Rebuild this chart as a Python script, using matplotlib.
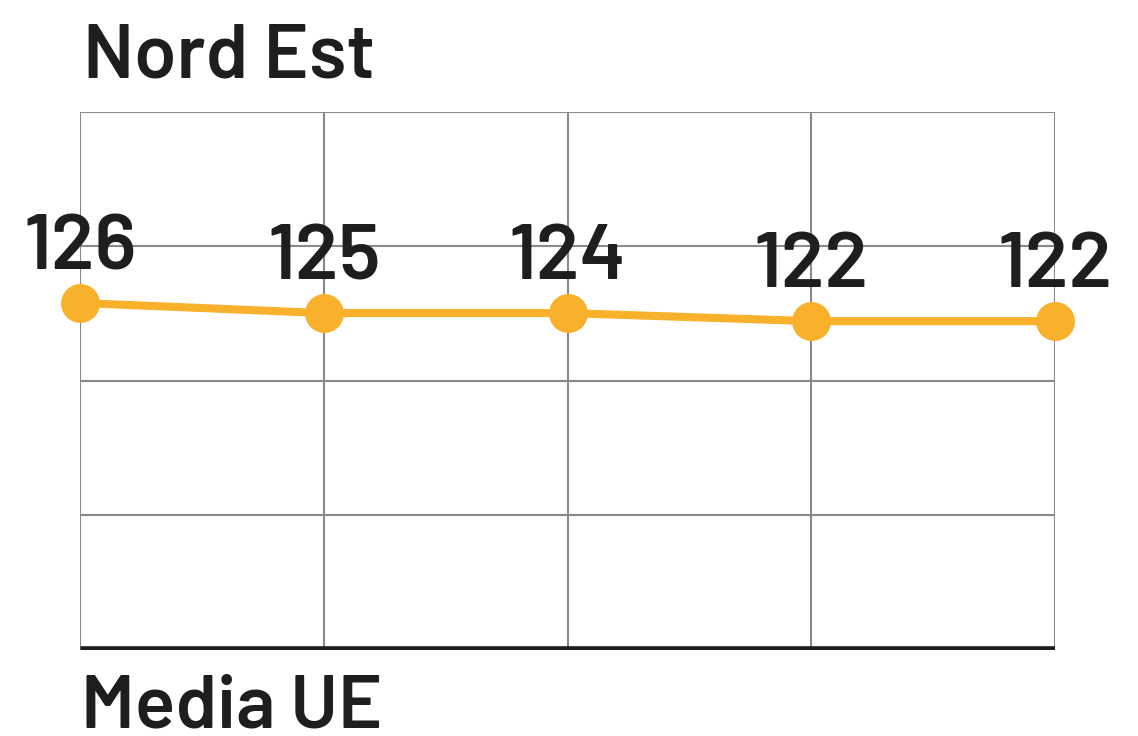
import matplotlib.pyplot as plt
import numpy as np

# --- Données ---
years = ["2015", "2016", "2017", "2018", "2019"]
labels = [126, 125, 124, 122, 122]              # valeurs affichées
line_y = [125.8, 125.05, 125.05, 124.45, 124.45]  # position (échelle 100-140)
y_ticks = [100, 110, 120, 130, 140]

title = "Nord Est"
base_label = "Media UE"

orange = "#F9B02A"
grid_c = "#8A8A8A"
ink = "#1E1E1C"
font = ["Barlow", "Barlow Semi Condensed", "Roboto", "DejaVu Sans"]

# --- Tracé ---
fig = plt.figure(figsize=(11.38, 7.36), dpi=100)
ax = fig.add_axes([80 / 1138, 86 / 736, 975 / 1138, 538 / 736])

x = np.arange(len(years))
ax.set_xlim(x[0], x[-1])
ax.set_ylim(y_ticks[0], y_ticks[-1])

for xi in x:
    ax.axvline(xi, color=grid_c, lw=1.5, zorder=1)
for yt in y_ticks[1:]:
    ax.axhline(yt, color=grid_c, lw=1.5, zorder=1)
ax.axhline(y_ticks[0], color=ink, lw=6.2, zorder=2, solid_capstyle="butt")

ax.plot(x, line_y, color=orange, lw=5.8, marker="o", markersize=27,
        zorder=3, clip_on=False)

for xi, yv, lab in zip(x, line_y, labels):
    ax.annotate(str(lab), (xi, yv), xytext=(0, 13.5), textcoords="offset points",
                ha="center", va="bottom", fontsize=57, color=ink,
                family=font, weight=600, annotation_clip=False)

for s in ax.spines.values():
    s.set_visible(False)
ax.set_xticks([])
ax.set_yticks([])

fig.text(83 / 1138, 1 - 78 / 736, title, fontsize=55, color=ink, family=font,
         weight=600, ha="left", va="baseline")
fig.text(81 / 1138, 1 - 728 / 736, base_label, fontsize=54, color=ink, family=font,
         weight=600, ha="left", va="baseline")

fig.savefig("out.png", dpi=100)
